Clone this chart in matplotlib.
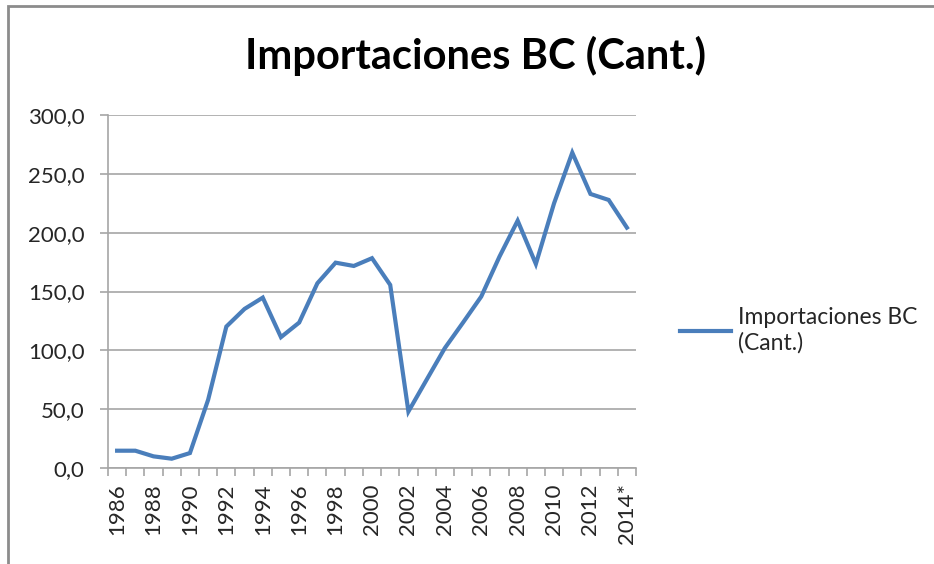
import numpy as np
import matplotlib
matplotlib.use("Agg")
import matplotlib.pyplot as plt
from matplotlib.patches import Rectangle

plt.rcParams["font.family"] = ["Lato", "DejaVu Sans"]

YEARS = [str(y) for y in range(1986, 2014)] + ["2014*"]
VALUES = [14.7, 14.7, 9.9, 7.9, 12.7, 58.0, 120.2, 135.2, 144.8, 111.2,
          123.6, 157.0, 174.5, 171.7, 178.3, 155.6, 48.0, 75.0, 101.9, 123.6,
          145.7, 179.6, 210.2, 173.4, 225.0, 268.0, 232.9, 227.8, 204.3]
SERIES = "Importaciones BC\n(Cant.)"
TITLE = "Importaciones BC (Cant.)"
LINE = "#4a7ebb"
GRID = "#a6a6a6"
TXT = "#262626"

fig = plt.figure(figsize=(9.34, 5.64), dpi=100)
ax = fig.add_axes([108 / 934, 1 - 468 / 564, 528 / 934, 353 / 564])

x = np.arange(len(VALUES))
ax.plot(x, VALUES, color=LINE, lw=3.0, solid_joinstyle="miter", label=SERIES)

ax.set_xlim(-0.5, len(VALUES) - 0.5)
ax.set_ylim(0, 300)
ax.set_yticks(np.arange(0, 301, 50))
ax.set_yticklabels([f"{v:.1f}".replace(".", ",") for v in np.arange(0, 301, 50)],
                   fontsize=16, color=TXT)
ax.yaxis.grid(True, color=GRID, lw=1.2)
ax.set_axisbelow(True)

# category boundary ticks, labels every second year
ax.set_xticks(np.arange(-0.5, len(VALUES), 1.0))
ax.set_xticklabels([])
ax.set_xticks(x[::2], minor=True)
ax.set_xticklabels(YEARS[::2], minor=True, rotation=90, fontsize=16, color=TXT)
ax.tick_params(axis="x", which="major", length=6, color=GRID, width=1.2)
ax.tick_params(axis="x", which="minor", length=0, pad=11)
ax.tick_params(axis="y", length=6, color=GRID, width=1.2, pad=11)

for s in ("top", "right"):
    ax.spines[s].set_visible(False)
for s in ("left", "bottom"):
    ax.spines[s].set_color(GRID)
    ax.spines[s].set_linewidth(1.2)

fig.text(476 / 934, 1 - 56 / 564, TITLE, ha="center", va="center",
         fontsize=30, fontweight="bold", color="black")

ax.legend(loc="center left", bbox_to_anchor=(1.045, 0.39), frameon=False,
          fontsize=16.5, handlelength=2.2, handletextpad=0.3, labelcolor=TXT)

fig.patches.append(Rectangle((8 / 934, -0.1), 1.2, 1 - 5.5 / 564 + 0.1,
                             transform=fig.transFigure, fill=False,
                             ec="#8c8c8c", lw=2.0))

fig.savefig("out.png", dpi=100)
